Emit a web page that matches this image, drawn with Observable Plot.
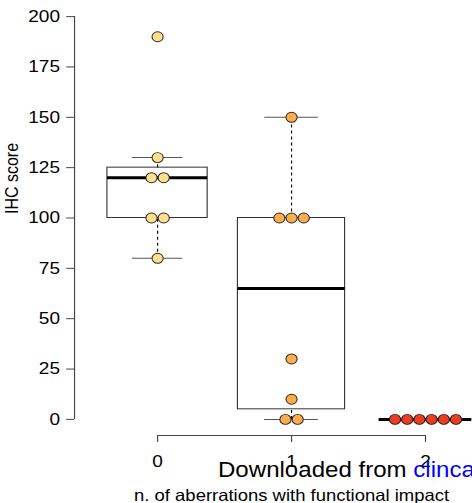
<!DOCTYPE html>
<html>
<head>
<meta charset="utf-8">
<script src="https://cdn.jsdelivr.net/npm/d3@7"></script>
<script src="https://cdn.jsdelivr.net/npm/@observablehq/plot@0.6"></script>
<style>
  html, body { margin: 0; padding: 0; background: #fff; overflow: hidden; }
  #chart svg { display: block; }
</style>
</head>
<body>
<div id="chart"></div>
<script>
// ---- data ----
const categories = [0, 1, 2];
const categoryLabels = ["0", "1", "2"];
const scores0 = [190, 130, 120, 120, 100, 100, 80];
const scores1 = [150, 100, 100, 100, 30, 10, 0, 0];
const scores2 = [0, 0, 0, 0, 0, 0];
const groupColors = ["#FFE08A", "#FDAE4B", "#EE3B22"];
const yTicks = [0, 25, 50, 75, 100, 125, 150, 175, 200];
const yLimits = [0, 200];
const xTitle = "n. of aberrations with functional impact";
const yTitle = "IHC score";
const watermarkPrefix = "Downloaded from ";
const watermarkLink = "clinca";

// ---- layout ----
const W = 472, H = 503, SX = 1.12;   // reference is horizontally stretched
const W0 = W / SX;
const font = "'Liberation Sans', Arial, Helvetica, sans-serif";

// R-like plot region: limits extended by 4%
const xlim = [categories[0] - 0.5, categories[categories.length - 1] + 0.5];
const xExt = (xlim[1] - xlim[0]) * 0.04;
const xDomain = [xlim[0] - xExt, xlim[1] + xExt];
const yExt = (yLimits[1] - yLimits[0]) * 0.04;
const yDomain = [yLimits[0] - yExt, yLimits[1] + yExt];

function fivenum(x) {
  const s = x.slice().sort((a, b) => a - b);
  const n = s.length;
  const n4 = Math.floor((n + 3) / 2) / 2;
  const d = [1, n4, (n + 1) / 2, n + 1 - n4, n];
  return d.map(v => 0.5 * (s[Math.floor(v) - 1] + s[Math.ceil(v) - 1]));
}

const groups = [scores0, scores1, scores2];
const nMax = d3.max(groups, g => g.length);
const boxes = groups.map((vals, i) => {
  const [, q1, med, q3] = fivenum(vals);
  const iqr = q3 - q1;
  const inside = vals.filter(v => v >= q1 - 1.5 * iqr && v <= q3 + 1.5 * iqr);
  const half = 0.4 * Math.sqrt(vals.length / nMax);
  return {cat: categories[i], q1, med, q3, wlo: d3.min(inside), whi: d3.max(inside), half};
});

// stripchart-style side-by-side placement of equal values
const dotStep = 0.091;
const dots = groups.flatMap((vals, i) => {
  const byVal = d3.group(vals, v => v);
  return Array.from(byVal, ([v, arr]) =>
    arr.map((_, j) => ({x: categories[i] + (j - (arr.length - 1) / 2) * dotStep, y: v, fill: groupColors[i]}))
  ).flat();
});

const lineColor = "#333";

const svg = Plot.plot({
  width: W0,
  height: H,
  marginLeft: 74 / SX,
  marginRight: 0,
  marginTop: 0,
  marginBottom: 68,
  style: {fontFamily: font, fontSize: "17px", background: "white", color: "black"},
  x: {domain: xDomain, range: [74 / SX, 508 / SX]},
  y: {domain: yDomain, range: [435, 0]},
  color: {type: "identity"},
  marks: [
    // boxes
    Plot.rect(boxes, {x1: d => d.cat - d.half, x2: d => d.cat + d.half, y1: "q1", y2: "q3", fill: "white", stroke: lineColor, strokeWidth: 1}),
    // whiskers
    Plot.ruleX(boxes, {x: "cat", y1: "q3", y2: "whi", stroke: "black", strokeDasharray: "3,3"}),
    Plot.ruleX(boxes, {x: "cat", y1: "wlo", y2: "q1", stroke: "black", strokeDasharray: "3,3"}),
    // staples
    Plot.ruleY(boxes, {y: "whi", x1: d => d.cat - d.half / 2, x2: d => d.cat + d.half / 2, stroke: "#555"}),
    Plot.ruleY(boxes, {y: "wlo", x1: d => d.cat - d.half / 2, x2: d => d.cat + d.half / 2, stroke: "#555"}),
    // medians
    Plot.ruleY(boxes, {y: "med", x1: d => d.cat - d.half, x2: d => d.cat + d.half, stroke: "black", strokeWidth: 3}),
    // axes (R style, detached)
    Plot.ruleX([xDomain[0]], {y1: yTicks[0], y2: yTicks[yTicks.length - 1], stroke: "#444"}),
    Plot.ruleY([yDomain[0]], {x1: categories[0], x2: categories[categories.length - 1], stroke: "#444"}),
    Plot.axisY({ticks: yTicks, tickSize: 7, tickPadding: 6, stroke: "#444", fill: "black", fontSize: 17}),
    Plot.axisX({ticks: categories, tickFormat: (d, i) => categoryLabels[i], tickSize: 7, tickPadding: 12, stroke: "#444", fill: "black", fontSize: 17}),
    // titles
    Plot.text([{y: (yLimits[0] + yLimits[1]) / 2, t: yTitle}], {y: "y", text: "t", frameAnchor: "left", rotate: -90, dx: -55.5, dy: -4, fontSize: 16, fill: "black"}),
    Plot.text([{x: categories[1], t: xTitle}], {x: "x", text: "t", frameAnchor: "bottom", lineAnchor: "bottom", dy: 65, fontSize: 16.5, fill: "black"}),
    // points
    Plot.dot(dots, {x: "x", y: "y", r: 5, fill: "fill", stroke: "#222", strokeWidth: 0.9})
  ]
});

// stretch horizontally like the reference
svg.setAttribute("width", W);
svg.setAttribute("height", H);
svg.setAttribute("preserveAspectRatio", "none");
svg.style.width = W + "px";
svg.style.height = H + "px";
svg.style.maxWidth = "none";

// watermark text (stamped over the figure)
const wm = d3.select(svg).append("text")
  .attr("x", 218 / SX)
  .attr("y", 477.5)
  .attr("text-anchor", "start")
  .style("font-family", font)
  .style("font-size", "21.5px");
wm.append("tspan").attr("fill", "black").text(watermarkPrefix);
wm.append("tspan").attr("fill", "#0000FF").text(watermarkLink);

document.getElementById("chart").appendChild(svg);
</script>
</body>
</html>
